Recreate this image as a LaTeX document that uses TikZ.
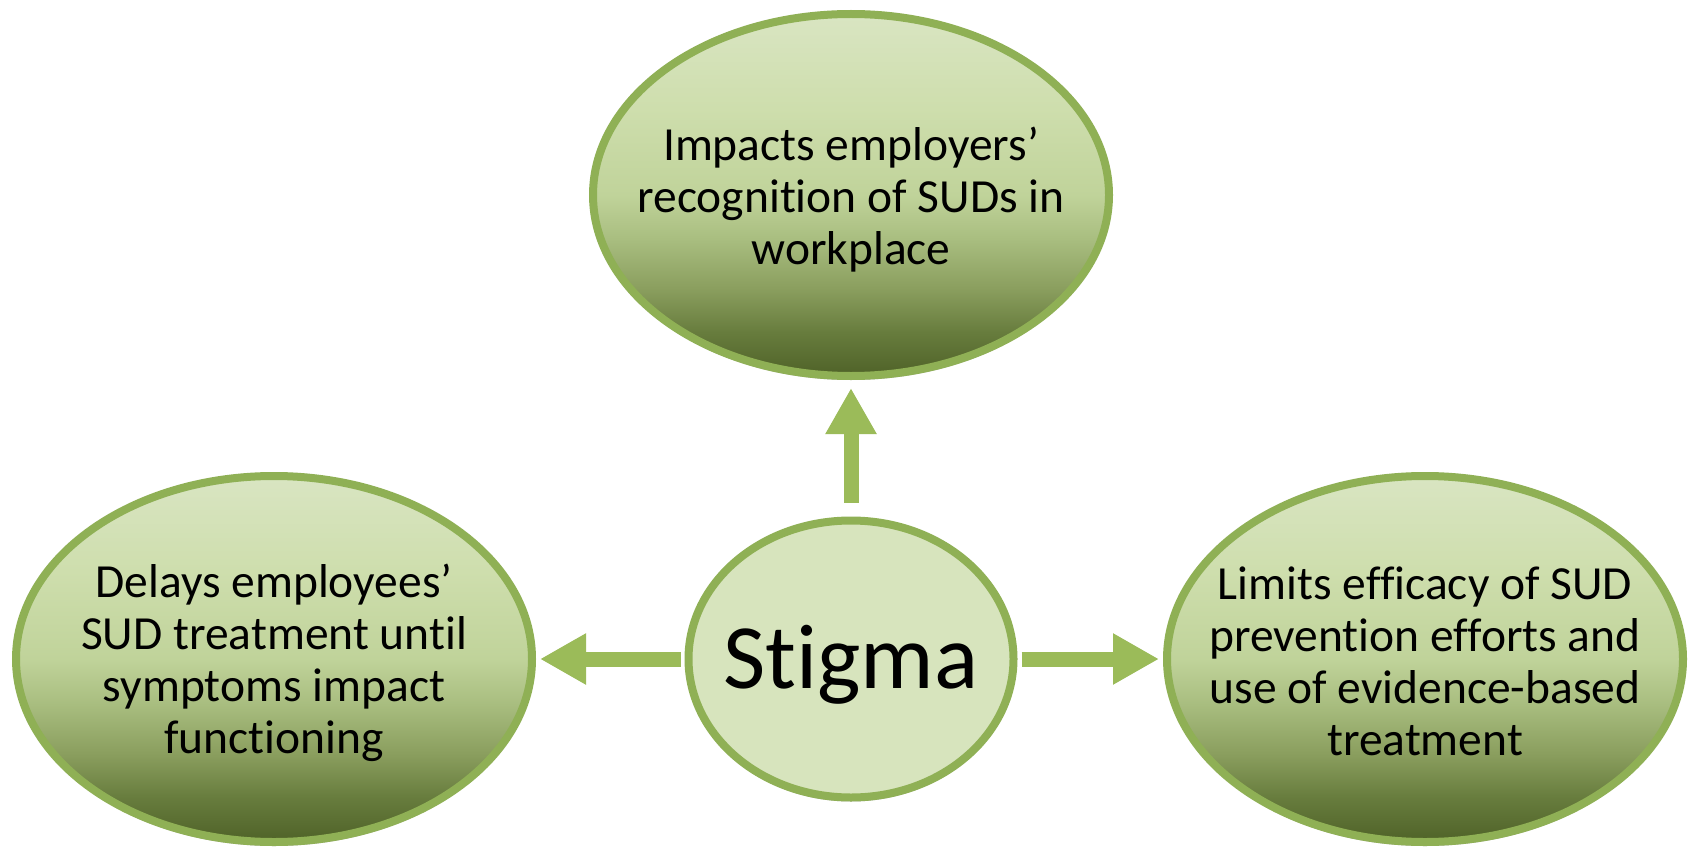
\documentclass[tikz,border=0pt]{standalone}
\usepackage{fontspec}
\setmainfont{Carlito}[Ligatures=NoCommon]
\usetikzlibrary{arrows.meta,shadows,shapes.geometric}
\definecolor{edgec}{HTML}{8FB055}
\definecolor{arrowc}{HTML}{9BBB59}
\definecolor{gL}{HTML}{D9E5C2}
\definecolor{g5}{HTML}{CEDEAD}
\definecolor{g4}{HTML}{C0D39A}
\definecolor{g3}{HTML}{A9BE80}
\definecolor{g2}{HTML}{8A9E5E}
\definecolor{g1}{HTML}{677C3D}
\definecolor{gD}{HTML}{4F6228}
\definecolor{cfill}{HTML}{D7E4BD}
\pgfdeclareverticalshading{olivegrad}{100bp}{color(0bp)=(gD); color(25bp)=(gD); color(31bp)=(g1); color(37bp)=(g2); color(44bp)=(g3); color(50bp)=(g4); color(62bp)=(g5); color(75bp)=(gL); color(100bp)=(gL)}
\begin{document}
\begin{tikzpicture}[x=1pt,y=-1pt,
  bubble/.style={ellipse, draw=edgec, line width=8pt, shading=olivegrad,
    minimum width=516pt, minimum height=366pt, inner sep=0pt,
    drop shadow={shadow xshift=0pt, shadow yshift=-4pt, opacity=0.25, fill=black}},
  centre/.style={ellipse, draw=edgec, line width=8pt, fill=cfill,
    minimum width=325pt, minimum height=277pt, inner sep=0pt,
    drop shadow={shadow xshift=0pt, shadow yshift=-4pt, opacity=0.25, fill=black}},
  txt/.style={align=center, inner sep=0pt, font=\fontsize{47.5}{52}\selectfont},
  bigtxt/.style={inner sep=0pt, font=\fontsize{92}{100}\selectfont},
  arr/.style={draw=arrowc, line width=15pt, -{Triangle[width=48pt,length=46pt]}}]
\useasboundingbox[fill=white] (0,0) rectangle (1694,848);
\node[bubble, minimum height=362pt] (top) at (851,195) {};
\node[bubble] (left) at (274,659) {};
\node[bubble] (right) at (1425,659) {};
\node[centre] (stig) at (851,659) {};
\node[txt] (toptxt) at ([yshift=-5pt]top.center) {Impacts employers’\\recognition of SUDs in\\workplace};
\node[txt] (lefttxt) at ([yshift=-4pt]left.center) {Delays employees’\\SUD treatment until\\symptoms impact\\functioning};
\node[txt] (righttxt) at ([yshift=-2pt]right.center) {Limits efficacy of SUD\\prevention efforts and\\use of evidence-based\\treatment};
\node[bigtxt] (stigtxt) at ([yshift=-6pt]stig.center) {Stigma};
\draw[arr] ([yshift=14pt]stig.north) -- ([yshift=-8pt]top.south);
\draw[arr] ([xshift=-4pt]stig.west) -- ([xshift=4pt]left.east);
\draw[arr] ([xshift=4pt]stig.east) -- ([xshift=-4pt]right.west);
\end{tikzpicture}
\end{document}
